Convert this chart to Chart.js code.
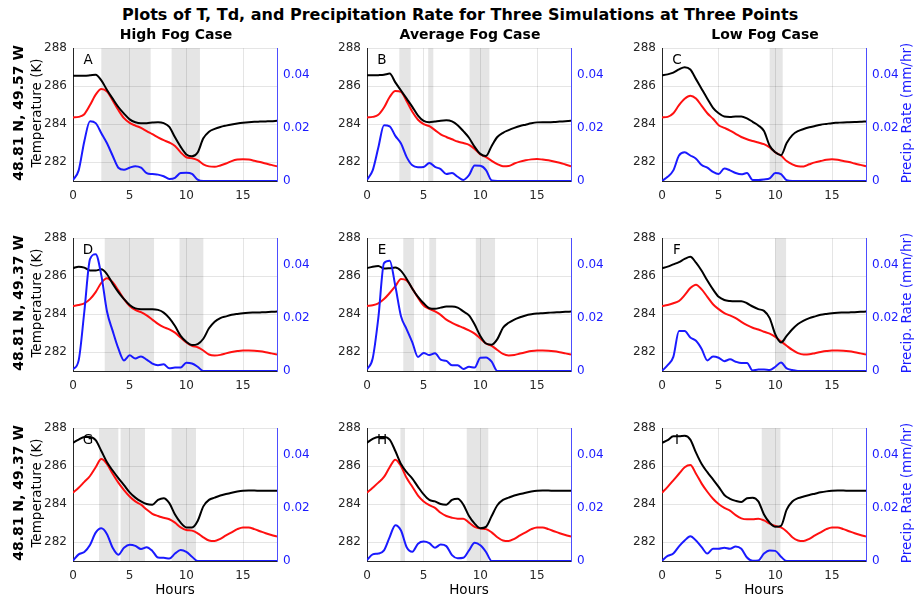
<!DOCTYPE html>
<html>
<head>
<meta charset="utf-8">
<script src="https://cdn.jsdelivr.net/npm/chart.js@4.4.1/dist/chart.umd.min.js"></script>
<style>
  body { margin: 0; background: #fff; }
  #fig { position: relative; width: 915px; height: 599px; overflow: hidden; font-family: "DejaVu Sans", sans-serif; }
  #fig canvas { position: absolute; }
  .lbl { position: absolute; white-space: nowrap; color: #000; line-height: 1; }
</style>
</head>
<body>
<div id="fig"></div>
<script>
// time axis (hours since start), shared by every series
const hours = [0, 0.5, 1, 1.5, 2, 2.5, 3, 3.5, 4, 4.5, 5, 5.5, 6, 6.5, 7, 7.5, 8, 8.5, 9,
  9.5, 10, 10.5, 11, 11.5, 12, 12.5, 13, 13.5, 14, 14.5, 15, 15.5, 16, 16.5, 17, 17.5, 18];

const xTicks = [0, 5, 10, 15];
const tempTicks = [282, 284, 286, 288];
const precipTicks = [0, 0.02, 0.04];

const columnTitles = ["High Fog Case", "Average Fog Case", "Low Fog Case"];
const rowLabels = ["48.81 N, 49.57 W", "48.81 N, 49.37 W", "48.81 N, 49.37 W"];
const panelLetters = ["A", "B", "C", "D", "E", "F", "G", "H", "I"];

// temperature T (K)
const tA = [286.55, 286.55, 286.55, 286.57, 286.6, 286.3, 285.8, 285.34, 284.9, 284.55, 284.25, 284.1, 284.05, 284.05, 284.08, 284.1, 284.05, 283.85, 283.3, 282.8, 282.4, 282.3, 282.5, 283.25, 283.6, 283.75, 283.85, 283.92, 283.98, 284.03, 284.07, 284.1, 284.12, 284.13, 284.14, 284.15, 284.17];
const tB = [286.57, 286.57, 286.58, 286.6, 286.66, 286.2, 285.77, 285.34, 284.91, 284.45, 284.17, 284.1, 284.14, 284.18, 284.2, 284.14, 283.94, 283.63, 283.28, 282.8, 282.43, 282.32, 282.85, 283.32, 283.54, 283.68, 283.8, 283.9, 283.97, 284.04, 284.09, 284.1, 284.1, 284.11, 284.13, 284.15, 284.17];
const tC = [286.57, 286.62, 286.71, 286.88, 287.0, 286.88, 286.37, 285.85, 285.34, 284.86, 284.57, 284.4, 284.38, 284.4, 284.4, 284.3, 284.12, 283.93, 283.63, 282.86, 282.51, 282.36, 283.0, 283.42, 283.63, 283.74, 283.83, 283.9, 283.97, 284.01, 284.05, 284.07, 284.09, 284.1, 284.11, 284.12, 284.14];
const tD = [286.42, 286.5, 286.45, 286.3, 286.3, 286.36, 286.1, 285.6, 285.16, 284.79, 284.48, 284.3, 284.26, 284.26, 284.26, 284.22, 284.08, 283.79, 283.37, 282.85, 282.54, 282.37, 282.42, 282.7, 283.25, 283.6, 283.79, 283.88, 283.96, 284.01, 284.05, 284.07, 284.08, 284.09, 284.1, 284.12, 284.13];
const tE = [286.42, 286.5, 286.54, 286.4, 286.42, 286.45, 286.28, 285.85, 285.34, 284.91, 284.57, 284.31, 284.28, 284.34, 284.4, 284.4, 284.34, 284.14, 283.93, 283.45, 282.85, 282.45, 282.39, 282.68, 283.28, 283.54, 283.71, 283.83, 283.93, 283.99, 284.03, 284.05, 284.07, 284.09, 284.1, 284.12, 284.13];
const tF = [286.42, 286.5, 286.62, 286.74, 286.91, 287.02, 286.71, 286.28, 285.77, 285.3, 284.91, 284.74, 284.69, 284.68, 284.68, 284.57, 284.4, 284.26, 284.17, 283.79, 282.93, 282.5, 282.85, 283.2, 283.48, 283.66, 283.79, 283.88, 283.96, 284.01, 284.05, 284.07, 284.08, 284.09, 284.1, 284.12, 284.13];
const tG = [287.23, 287.4, 287.54, 287.54, 287.37, 286.8, 286.2, 285.77, 285.37, 285.0, 284.62, 284.34, 284.14, 284.0, 283.97, 284.22, 284.31, 284.05, 283.45, 283.02, 282.77, 282.77, 283.11, 283.88, 284.22, 284.34, 284.45, 284.53, 284.6, 284.66, 284.7, 284.71, 284.71, 284.7, 284.7, 284.7, 284.7];
const tH = [287.23, 287.44, 287.54, 287.54, 287.4, 286.8, 286.11, 285.68, 285.34, 284.91, 284.51, 284.22, 284.14, 284.0, 283.97, 284.22, 284.28, 283.97, 283.37, 282.97, 282.73, 282.8, 283.37, 283.94, 284.22, 284.34, 284.45, 284.53, 284.6, 284.66, 284.7, 284.71, 284.71, 284.7, 284.7, 284.7, 284.7];
const tI = [287.23, 287.37, 287.57, 287.57, 287.6, 287.4, 286.71, 286.11, 285.68, 285.3, 284.91, 284.48, 284.28, 284.17, 284.11, 284.31, 284.34, 284.14, 283.45, 283.02, 282.8, 282.85, 283.71, 284.14, 284.31, 284.4, 284.48, 284.55, 284.62, 284.67, 284.7, 284.71, 284.71, 284.7, 284.7, 284.7, 284.7];

// dew point Td (K)
const tdA = [284.35, 284.38, 284.52, 285.0, 285.55, 285.85, 285.72, 285.25, 284.74, 284.31, 284.06, 283.92, 283.8, 283.63, 283.47, 283.3, 283.15, 283.03, 282.85, 282.51, 282.25, 282.2, 282.1, 281.88, 281.77, 281.75, 281.82, 281.92, 282.05, 282.13, 282.15, 282.13, 282.07, 282.0, 281.92, 281.85, 281.77];
const tdB = [284.35, 284.38, 284.49, 284.87, 285.43, 285.75, 285.7, 285.2, 284.65, 284.23, 284.0, 283.89, 283.68, 283.46, 283.32, 283.2, 283.08, 283.0, 282.91, 282.69, 282.4, 282.26, 282.06, 281.89, 281.78, 281.79, 281.92, 282.02, 282.09, 282.14, 282.16, 282.13, 282.09, 282.03, 281.96, 281.87, 281.78];
const tdC = [284.35, 284.38, 284.57, 285.0, 285.34, 285.5, 285.35, 284.96, 284.57, 284.28, 283.94, 283.8, 283.66, 283.49, 283.32, 283.2, 283.11, 283.03, 282.94, 282.77, 282.51, 282.34, 282.05, 281.88, 281.78, 281.77, 281.88, 281.98, 282.05, 282.12, 282.14, 282.12, 282.05, 282.0, 281.92, 281.85, 281.78];
const tdD = [284.43, 284.48, 284.57, 284.79, 285.16, 285.65, 285.89, 285.68, 285.25, 284.79, 284.43, 284.22, 284.1, 283.93, 283.71, 283.48, 283.31, 283.19, 283.02, 282.76, 282.5, 282.33, 282.25, 282.08, 281.87, 281.82, 281.85, 281.93, 282.0, 282.05, 282.08, 282.08, 282.07, 282.04, 281.99, 281.93, 281.87];
const tdE = [284.43, 284.47, 284.57, 284.79, 285.11, 285.47, 285.85, 285.77, 285.34, 284.86, 284.45, 284.28, 284.14, 283.96, 283.71, 283.54, 283.4, 283.28, 283.14, 282.97, 282.71, 282.45, 282.33, 282.11, 281.9, 281.82, 281.84, 281.92, 281.99, 282.05, 282.08, 282.08, 282.07, 282.04, 281.99, 281.93, 281.87];
const tdF = [284.43, 284.48, 284.57, 284.69, 285.0, 285.37, 285.55, 285.3, 284.91, 284.52, 284.26, 284.05, 283.93, 283.79, 283.59, 283.42, 283.28, 283.19, 283.07, 282.97, 282.8, 282.56, 282.33, 282.11, 281.94, 281.87, 281.88, 281.94, 282.0, 282.05, 282.08, 282.08, 282.07, 282.04, 281.99, 281.93, 281.87];
const tdG = [284.6, 284.86, 285.17, 285.48, 285.94, 286.37, 286.11, 285.6, 285.13, 284.74, 284.4, 284.14, 283.97, 283.71, 283.49, 283.37, 283.28, 283.2, 283.02, 282.77, 282.63, 282.6, 282.46, 282.25, 282.08, 282.05, 282.17, 282.35, 282.51, 282.68, 282.77, 282.77, 282.68, 282.57, 282.46, 282.37, 282.29];
const tdH = [284.6, 284.86, 285.13, 285.43, 285.94, 286.34, 286.0, 285.37, 284.91, 284.45, 284.14, 283.94, 283.8, 283.54, 283.37, 283.28, 283.23, 283.23, 283.02, 282.8, 282.71, 282.68, 282.51, 282.25, 282.08, 282.05, 282.17, 282.35, 282.51, 282.68, 282.77, 282.77, 282.68, 282.57, 282.46, 282.37, 282.29];
const tdI = [284.6, 284.91, 285.25, 285.6, 285.94, 286.06, 285.6, 285.08, 284.65, 284.28, 284.0, 283.8, 283.66, 283.42, 283.25, 283.2, 283.2, 283.23, 283.14, 282.97, 282.85, 282.77, 282.56, 282.25, 282.08, 282.05, 282.17, 282.35, 282.51, 282.68, 282.77, 282.77, 282.68, 282.57, 282.46, 282.37, 282.29];

// precipitation rate (mm/hr)
const pA = [0.0004, 0.004, 0.015, 0.0225, 0.0218, 0.018, 0.0142, 0.0095, 0.005, 0.0042, 0.005, 0.0056, 0.005, 0.003, 0.0026, 0.0024, 0.0018, 0.0008, 0.0012, 0.003, 0.0031, 0.0027, 0.0005, 0, 0, 0, 0, 0, 0, 0, 0, 0, 0, 0, 0, 0, 0];
const pB = [0.0005, 0.004, 0.0126, 0.021, 0.0206, 0.017, 0.0141, 0.009, 0.0059, 0.0052, 0.0053, 0.0068, 0.0053, 0.0045, 0.0026, 0.003, 0.0016, 0.0004, 0.0022, 0.0058, 0.0057, 0.0041, 0.0002, 0, 0, 0, 0, 0, 0, 0, 0, 0, 0, 0, 0, 0, 0];
const pC = [0, 0.0016, 0.004, 0.0096, 0.0108, 0.0096, 0.0084, 0.006, 0.005, 0.0034, 0.0026, 0.0047, 0.004, 0.003, 0.0025, 0.003, 0.0004, 0.0004, 0.0006, 0.001, 0.003, 0.0026, 0.0003, 0, 0, 0, 0, 0, 0, 0, 0, 0, 0, 0, 0, 0, 0];
const pD = [0.0006, 0.004, 0.0224, 0.0421, 0.044, 0.036, 0.0224, 0.0151, 0.0085, 0.004, 0.0059, 0.0047, 0.0055, 0.0043, 0.0028, 0.0022, 0.0025, 0.001, 0.0013, 0.0013, 0.0031, 0.0028, 0.0016, 0, 0, 0, 0, 0, 0, 0, 0, 0, 0, 0, 0, 0, 0];
const pE = [0.0006, 0.0047, 0.02, 0.0406, 0.0415, 0.032, 0.0206, 0.0157, 0.0108, 0.0053, 0.0068, 0.006, 0.0067, 0.0043, 0.0038, 0.0022, 0.0022, 0.0008, 0.0016, 0.0013, 0.005, 0.0051, 0.0035, 0, 0, 0, 0, 0, 0, 0, 0, 0, 0, 0, 0, 0, 0];
const pF = [0, 0.0022, 0.0053, 0.0151, 0.0151, 0.0126, 0.0114, 0.0083, 0.004, 0.0055, 0.005, 0.0037, 0.0044, 0.0035, 0.003, 0.003, 0.0002, 0.0006, 0.0006, 0.0004, 0.0016, 0.0032, 0.001, 0.0004, 0, 0, 0, 0, 0, 0, 0, 0, 0, 0, 0, 0, 0];
const pG = [0.0001, 0.0025, 0.0034, 0.006, 0.0107, 0.0123, 0.0101, 0.005, 0.0024, 0.005, 0.0061, 0.0057, 0.0045, 0.0052, 0.0038, 0.0013, 0.0012, 0.0009, 0.0028, 0.0041, 0.0034, 0.0016, 0, 0, 0, 0, 0, 0, 0, 0, 0, 0, 0, 0, 0, 0, 0];
const pH = [0.0004, 0.0025, 0.0028, 0.004, 0.009, 0.0135, 0.0115, 0.0052, 0.0035, 0.0065, 0.0073, 0.0067, 0.005, 0.0062, 0.0056, 0.0022, 0.001, 0.0012, 0.004, 0.0069, 0.0059, 0.0034, 0, 0, 0, 0, 0, 0, 0, 0, 0, 0, 0, 0, 0, 0, 0];
const pI = [0.0001, 0.0019, 0.0028, 0.0055, 0.0077, 0.0093, 0.0077, 0.0052, 0.0028, 0.0046, 0.0046, 0.005, 0.0046, 0.0055, 0.0046, 0.0013, 0.0001, 0.0002, 0.0028, 0.004, 0.0038, 0.0016, 0, 0, 0, 0, 0, 0, 0, 0, 0, 0, 0, 0, 0, 0, 0];

// fog periods, [start hour, end hour]
const fogA = [[2.5, 6.85], [8.7, 11.2]];
const fogB = [[2.85, 3.85], [5.4, 5.85], [9.05, 10.8]];
const fogC = [[9.5, 10.65]];
const fogD = [[2.8, 7.15], [9.4, 11.5]];
const fogE = [[3.2, 4.15], [5.5, 6.1], [9.6, 11.3]];
const fogF = [[10, 10.95]];
const fogG = [[2.3, 4.0], [4.2, 6.35], [8.7, 10.85]];
const fogH = [[2.95, 3.35], [8.8, 10.7]];
const fogI = [[8.8, 10.45]];

const temps = [tA, tB, tC, tD, tE, tF, tG, tH, tI];
const dews = [tdA, tdB, tdC, tdD, tdE, tdF, tdG, tdH, tdI];
const precips = [pA, pB, pC, pD, pE, pF, pG, pH, pI];
const fogs = [fogA, fogB, fogC, fogD, fogE, fogF, fogG, fogH, fogI];

// layout
const colLeft = [73, 367, 662];
const rowTop = [45, 235, 425];
const plotW = 204, plotH = 136;
const padL = 45, padR = 50, padT = 10, padB = 26;
const axisGray = "#262626";
const precipBlue = "#1a1aff";

Chart.defaults.font.family = '"DejaVu Sans", sans-serif';
Chart.defaults.font.size = 12;

const fig = document.getElementById("fig");

function addLabel(text, cx, cy, style, rotate, anchorLeft) {
    const el = document.createElement("div");
    el.className = "lbl";
    el.textContent = text;
    Object.assign(el.style, style);
    el.style.left = cx + "px";
    el.style.top = cy + "px";
    el.style.transform = (anchorLeft ? "translate(0, -50%)" : "translate(-50%, -50%)") + (rotate ? " rotate(-90deg)" : "");
    fig.appendChild(el);
}

// grey bands behind the grid for the fog periods
const fogBands = {
    id: "fogBands",
    beforeDraw(chart, args, opts) {
        const { ctx, chartArea: a, scales: { x } } = chart;
        ctx.save();
        ctx.fillStyle = "#e5e5e5";
        opts.spans.forEach(([s, e]) => {
            const x0 = x.getPixelForValue(s);
            const x1 = x.getPixelForValue(e);
            ctx.fillRect(x0, a.top, x1 - x0, a.bottom - a.top);
        });
        ctx.restore();
    }
};

function series(values) {
    return hours.map((h, i) => ({ x: h, y: values[i] }));
}

function fixedTicks(list) {
    return scale => { scale.ticks = list.map(v => ({ value: v })); };
}

function makePanel(idx) {
    const row = Math.floor(idx / 3), col = idx % 3;
    const canvas = document.createElement("canvas");
    const w = padL + plotW + padR, h = padT + plotH + padB;
    canvas.width = w;
    canvas.height = h;
    canvas.style.left = (colLeft[col] - padL) + "px";
    canvas.style.top = (rowTop[row] - padT) + "px";
    canvas.style.width = w + "px";
    canvas.style.height = h + "px";
    fig.appendChild(canvas);

    const line = (data, color, axis, order) => ({
        data: series(data), yAxisID: axis, borderColor: color, borderWidth: 2,
        pointRadius: 0, fill: false, cubicInterpolationMode: "monotone", order
    });

    new Chart(canvas, {
        type: "line",
        data: {
            datasets: [
                line(precips[idx], precipBlue, "y2", 0),
                line(temps[idx], "#000000", "y", 1),
                line(dews[idx], "#ff1010", "y", 2)
            ]
        },
        options: {
            responsive: false,
            animation: false,
            layout: { padding: { top: padT, left: 0, right: 0, bottom: 0 } },
            plugins: {
                legend: { display: false },
                tooltip: { enabled: false },
                fogBands: { spans: fogs[idx] }
            },
            scales: {
                x: {
                    type: "linear", min: 0, max: 18,
                    afterBuildTicks: fixedTicks(xTicks),
                    afterFit: s => { s.height = padB; },
                    grid: { color: "rgba(0,0,0,0.1)", drawTicks: false },
                    border: { color: axisGray },
                    ticks: { color: axisGray, padding: 8, maxRotation: 0 }
                },
                y: {
                    position: "left", min: 281, max: 288,
                    afterBuildTicks: fixedTicks(tempTicks),
                    afterFit: s => { s.width = padL; },
                    grid: { color: "rgba(0,0,0,0.1)", drawTicks: false },
                    border: { color: axisGray },
                    ticks: { color: axisGray, padding: 6 }
                },
                y2: {
                    position: "right", min: 0, max: 0.05,
                    afterBuildTicks: fixedTicks(precipTicks),
                    afterFit: s => { s.width = padR; },
                    grid: { display: false, drawTicks: false },
                    border: { color: "#4d4dff" },
                    ticks: { color: precipBlue, padding: 6, callback: v => v === 0 ? "0" : v.toFixed(2) }
                }
            }
        },
        plugins: [fogBands]
    });

    addLabel(panelLetters[idx], colLeft[col] + 15, rowTop[row] + 15, { fontSize: "13.5px" });
}

for (let i = 0; i < 9; i++) makePanel(i);

// titles and axis labels
addLabel("Plots of T, Td, and Precipitation Rate for Three Simulations at Three Points", 122, 15,
    { fontSize: "16px", fontWeight: "bold" }, false, true);
columnTitles.forEach((t, c) => addLabel(t, colLeft[c] + plotW / 2 + 1, 34, { fontSize: "14px", fontWeight: "bold" }));
rowLabels.forEach((t, r) => {
    const cy = rowTop[r] + plotH / 2;
    addLabel(t, 18, cy, { fontSize: "14px", fontWeight: "bold" }, true);
    addLabel("Temperature (K)", 37, cy, { fontSize: "13.5px" }, true);
    addLabel("Precip. Rate (mm/hr)", 907, cy, { fontSize: "13.5px", color: precipBlue }, true);
});
colLeft.forEach(x => addLabel("Hours", x + plotW / 2, 590, { fontSize: "13.5px" }));
</script>
</body>
</html>
